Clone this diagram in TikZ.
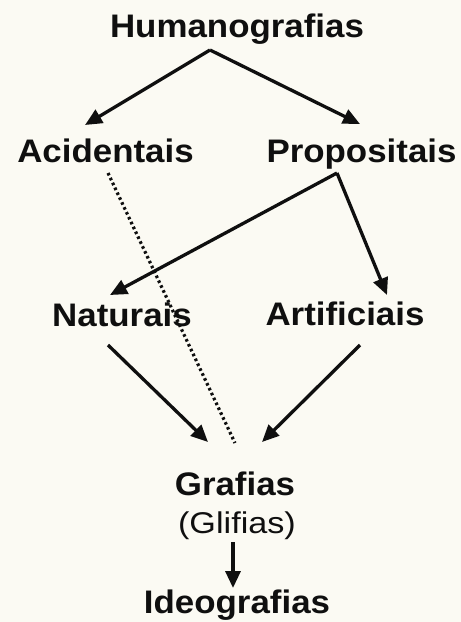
\documentclass[tikz,border=0pt]{standalone}
\usepackage{fontspec}
\setmainfont{Liberation Sans}
\usetikzlibrary{arrows.meta,calc}
\definecolor{paper}{RGB}{251,250,243}
\definecolor{ink}{RGB}{15,15,15}
\tikzset{
  lbl/.style={inner sep=0pt, anchor=base, xscale=1.07, text=ink,
    font=\fontsize{16.3}{19}\selectfont\bfseries},
  sublbl/.style={inner sep=0pt, anchor=base, xscale=1.14, text=ink,
    font=\fontsize{15}{18}\selectfont},
  arr/.style={-{Triangle[length=8.5pt,width=7.5pt]}, ink, line width=1.65pt},
  dots/.style={ink, line width=1.6pt, dash pattern=on 1.3pt off 1.4pt},
}

\begin{document}
\begin{tikzpicture}[x=0.5pt,y=-0.5pt]
  \fill[paper] (0,0) rectangle (461,622);
  \useasboundingbox (0,0) rectangle (461,622);
  % labels
  \node[lbl] (hum) at (237,37) {Humanografias};
  \node[lbl] (acid) at (105.5,162) {Acidentais};
  \node[lbl] (prop) at (361.5,162) {Propositais};
  \node[lbl] (nat) at (122,326) {Naturais};
  \node[lbl] (art) at (345,325) {Artificiais};
  \node[lbl] (graf) at (235,495) {Grafias};
  \node[sublbl] (glif) at (237,533) {(Glifias)};
  \node[lbl] (ideo) at (237,613) {Ideografias};
  % forks
  \coordinate (hfork) at ($(hum.base)+(-27,13)$);
  \coordinate (pfork) at ($(prop.base)+(-24.5,11)$);
  % arrows
  \draw[arr] (hfork) -- ($(acid.base)+(-20.5,-37)$);
  \draw[arr] (hfork) -- ($(prop.base)+(-1.5,-38)$);
  \draw[arr] (pfork) -- ($(nat.base)+(-12,-31)$);
  \draw[arr] (pfork) -- ($(art.base)+(42,-30)$);
  \draw[arr] ($(nat.base)+(-14,19)$) -- ($(graf.base)+(-27,-53)$);
  \draw[arr] ($(art.base)+(15,20)$) -- ($(graf.base)+(27,-53)$);
  \draw[arr] ($(glif.base)+(-4,9)$) -- ($(ideo.base)+(-4,-25)$);
  \draw[dots] ($(acid.base)+(2.5,11)$) -- ($(graf.base)+(0,-52)$);
\end{tikzpicture}
\end{document}
